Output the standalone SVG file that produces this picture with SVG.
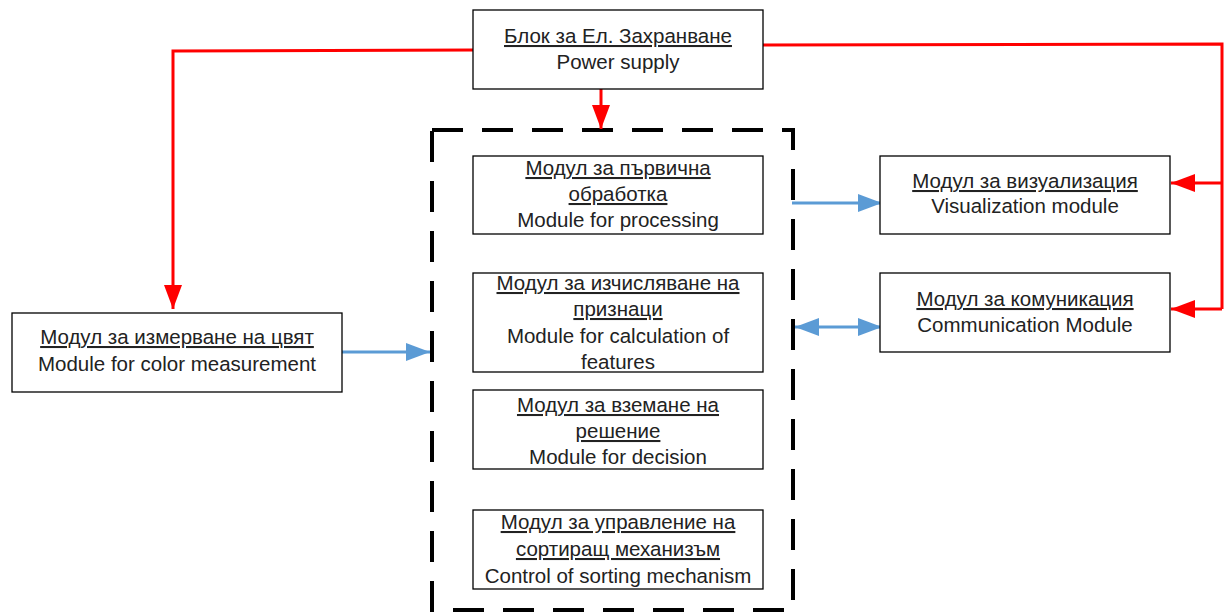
<svg xmlns="http://www.w3.org/2000/svg" width="1224" height="614" viewBox="0 0 1224 614">
<defs>
<style>
.box{fill:#fff;stroke:#000;stroke-width:1.3}
text{font-family:"Liberation Sans",Arial,sans-serif;font-size:20.5px;fill:#222;text-anchor:middle}
.u{text-decoration:underline}
.red{fill:none;stroke:#FF0000;stroke-width:3}
.blue{fill:none;stroke:#5B9BD5;stroke-width:3}
</style>
<marker id="ar" markerUnits="userSpaceOnUse" markerWidth="24" markerHeight="18" refX="24" refY="9" orient="auto"><path d="M0,0 L24,9 L0,18 z" fill="#FF0000"/></marker>
<marker id="ab" markerUnits="userSpaceOnUse" markerWidth="24" markerHeight="18" refX="24" refY="9" orient="auto-start-reverse"><path d="M0,0 L24,9 L0,18 z" fill="#5B9BD5"/></marker>
</defs>
<rect id="container" x="432" y="130" width="361" height="480" fill="none" stroke="#000" stroke-width="4" stroke-dasharray="31 19"/>
<g id="connectors">
<path class="red" d="M473,50 L173,51 L173,309" marker-end="url(#ar)"/>
<path class="red" d="M763,45 L1222,44 L1222,309"/>
<path class="red" d="M1222,183 L1171,183" marker-end="url(#ar)"/>
<path class="red" d="M1222,309 L1171,309" marker-end="url(#ar)"/>
<path class="red" d="M601,89 L601,129" marker-end="url(#ar)"/>
<path class="blue" d="M338,352 L430,352" marker-end="url(#ab)"/>
<path class="blue" d="M792,203 L882,203" marker-end="url(#ab)"/>
<path class="blue" d="M795,327 L882,327" marker-start="url(#ab)" marker-end="url(#ab)"/>
</g>
<g id="power">
<rect class="box" x="473" y="10" width="290" height="79"/>
<text x="618" y="43" class="u">Блок за Ел. Захранване</text>
<text x="618" y="69">Power supply</text>
</g>
<g id="processing">
<rect class="box" x="473" y="156" width="290" height="78"/>
<text x="618" y="175" class="u">Модул за първична</text>
<text x="618" y="201" class="u">обработка</text>
<text x="618" y="227">Module for processing</text>
</g>
<g id="features">
<rect class="box" x="473" y="273" width="290" height="99"/>
<text x="618" y="290" class="u">Модул за изчисляване на</text>
<text x="618" y="316" class="u">признаци</text>
<text x="618" y="343">Module for calculation of</text>
<text x="618" y="369">features</text>
</g>
<g id="decision">
<rect class="box" x="473" y="390" width="290" height="79"/>
<text x="618" y="412" class="u">Модул за вземане на</text>
<text x="618" y="438" class="u">решение</text>
<text x="618" y="464">Module for decision</text>
</g>
<g id="sorting">
<rect class="box" x="473" y="510" width="290" height="79"/>
<text x="618" y="529" class="u">Модул за управление на</text>
<text x="618" y="556" class="u">сортиращ механизъм</text>
<text x="618" y="583">Control of sorting mechanism</text>
</g>
<g id="color">
<rect class="box" x="12" y="313" width="330" height="79"/>
<text x="177" y="344" class="u">Модул за измерване на цвят</text>
<text x="177" y="371">Module for color measurement</text>
</g>
<g id="visualization">
<rect class="box" x="880" y="156" width="290" height="78"/>
<text x="1025" y="188" class="u">Модул за визуализация</text>
<text x="1025" y="213">Visualization module</text>
</g>
<g id="communication">
<rect class="box" x="880" y="273" width="290" height="79"/>
<text x="1025" y="306" class="u">Модул за комуникация</text>
<text x="1025" y="332">Communication Module</text>
</g>
</svg>
